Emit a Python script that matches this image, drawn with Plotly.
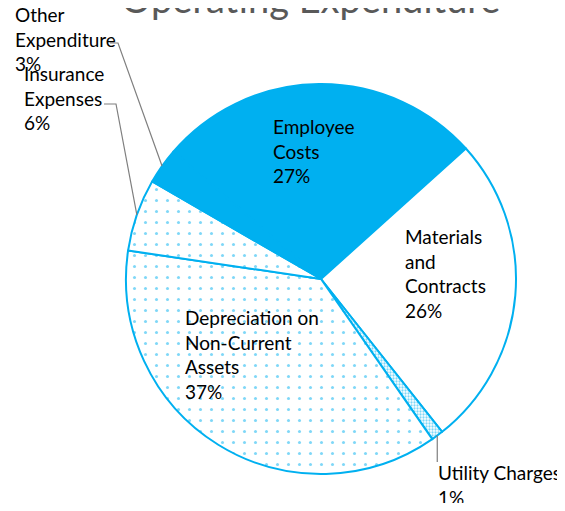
import math
import plotly.graph_objects as go

# ---- data ----
categories = ["Employee Costs", "Materials and Contracts", "Utility Charges",
              "Depreciation on Non-Current Assets", "Insurance Expenses", "Other Expenditure"]
values = [27, 26, 1, 37, 6, 3]
label_text = ["Employee<br>Costs<br>27%", "Materials<br>and<br>Contracts<br>26%",
              "Utility Charges<br>1%", "Depreciation on<br>Non-Current<br>Assets<br>37%",
              "Insurance<br>Expenses<br>6%", "Other<br>Expenditure<br>3%"]
title_text = "Operating Expenditure"

# ---- layout constants ----
OFF = 8                      # page body margin
W, H = 565 - 2 * OFF, 511 - 2 * OFF
CX, CY, R = 321, 279, 195    # page pixels
ROTATION = -49.2
BLUE = "#00B0F0"
FONT = "Lato"

def px_x(x):                 # page px -> paper
    return (x - OFF) / W

def px_y(y):
    return 1 - (y - OFF) / H

fill_colors = [BLUE, "white", "white", "white", "white", BLUE]
shapes_pat = ["", "", ".", ".", ".", ""]
pat_size = [8, 8, 3, 11, 11, 8]
pat_sol = [0.3, 0.3, 0.45, 0.06, 0.06, 0.3]

fig = go.Figure(go.Pie(
    labels=categories,
    values=values,
    sort=False,
    direction="clockwise",
    rotation=ROTATION,
    textinfo="none",
    hoverinfo="label+percent",
    marker=dict(
        colors=fill_colors,
        line=dict(color=BLUE, width=2),
        pattern=dict(shape=shapes_pat, size=pat_size, solidity=pat_sol,
                     fgcolor=BLUE, bgcolor=fill_colors, fillmode="overlay"),
    ),
    domain=dict(x=[px_x(CX - R), px_x(CX + R)], y=[px_y(CY + R), px_y(CY - R)]),
    showlegend=False,
))

# mid-angle anchor points of slices (from data)
total = sum(values)
anchors = []
cum = 0
for v in values:
    mid = ROTATION + 360 * (cum + v / 2) / total
    a = math.radians(mid)
    anchors.append((CX + R * math.sin(a), CY - R * math.cos(a)))
    cum += v

# label placements (page pixels: left x, middle y)
label_pos = {
    0: (271, 151),
    1: (403, 273),
    2: (436, 485),
    3: (183, 354),
    4: (22, 98),
    5: (13, 39),
}
annotations = []
for i, (lx, ly) in label_pos.items():
    annotations.append(dict(
        text=label_text[i], x=px_x(lx), y=px_y(ly), xref="paper", yref="paper",
        xanchor="left", yanchor="middle", align="left", showarrow=False,
        font=dict(family=FONT, size=19, color="#000000"),
    ))

# title (partly cut off at top, as in reference)
annotations.append(dict(
    text=title_text, x=px_x(311), y=px_y(23), xref="paper", yref="paper",
    xanchor="center", yanchor="bottom", showarrow=False,
    font=dict(family=FONT, size=38, color="#595959"),
))

# leader lines
GRAY = "#7F7F7F"
shapes = []
def leader(points):
    path = "M " + " L ".join(f"{px_x(x)},{px_y(y)}" for x, y in points)
    shapes.append(dict(type="path", path=path, xref="paper", yref="paper",
                       line=dict(color=GRAY, width=1.2)))

ox, oy = anchors[5]
leader([(110, 43), (118, 43), (ox, oy)])
ix, iy = anchors[4]
leader([(104, 104), (116, 104), (ix, iy)])
ux, uy = anchors[2]
leader([(ux, uy), (ux, 462)])

fig.update_layout(
    width=W, height=H,
    margin=dict(l=0, r=0, t=0, b=0),
    paper_bgcolor="white", plot_bgcolor="white",
    annotations=annotations, shapes=shapes,
)

fig.write_html("out.html")
